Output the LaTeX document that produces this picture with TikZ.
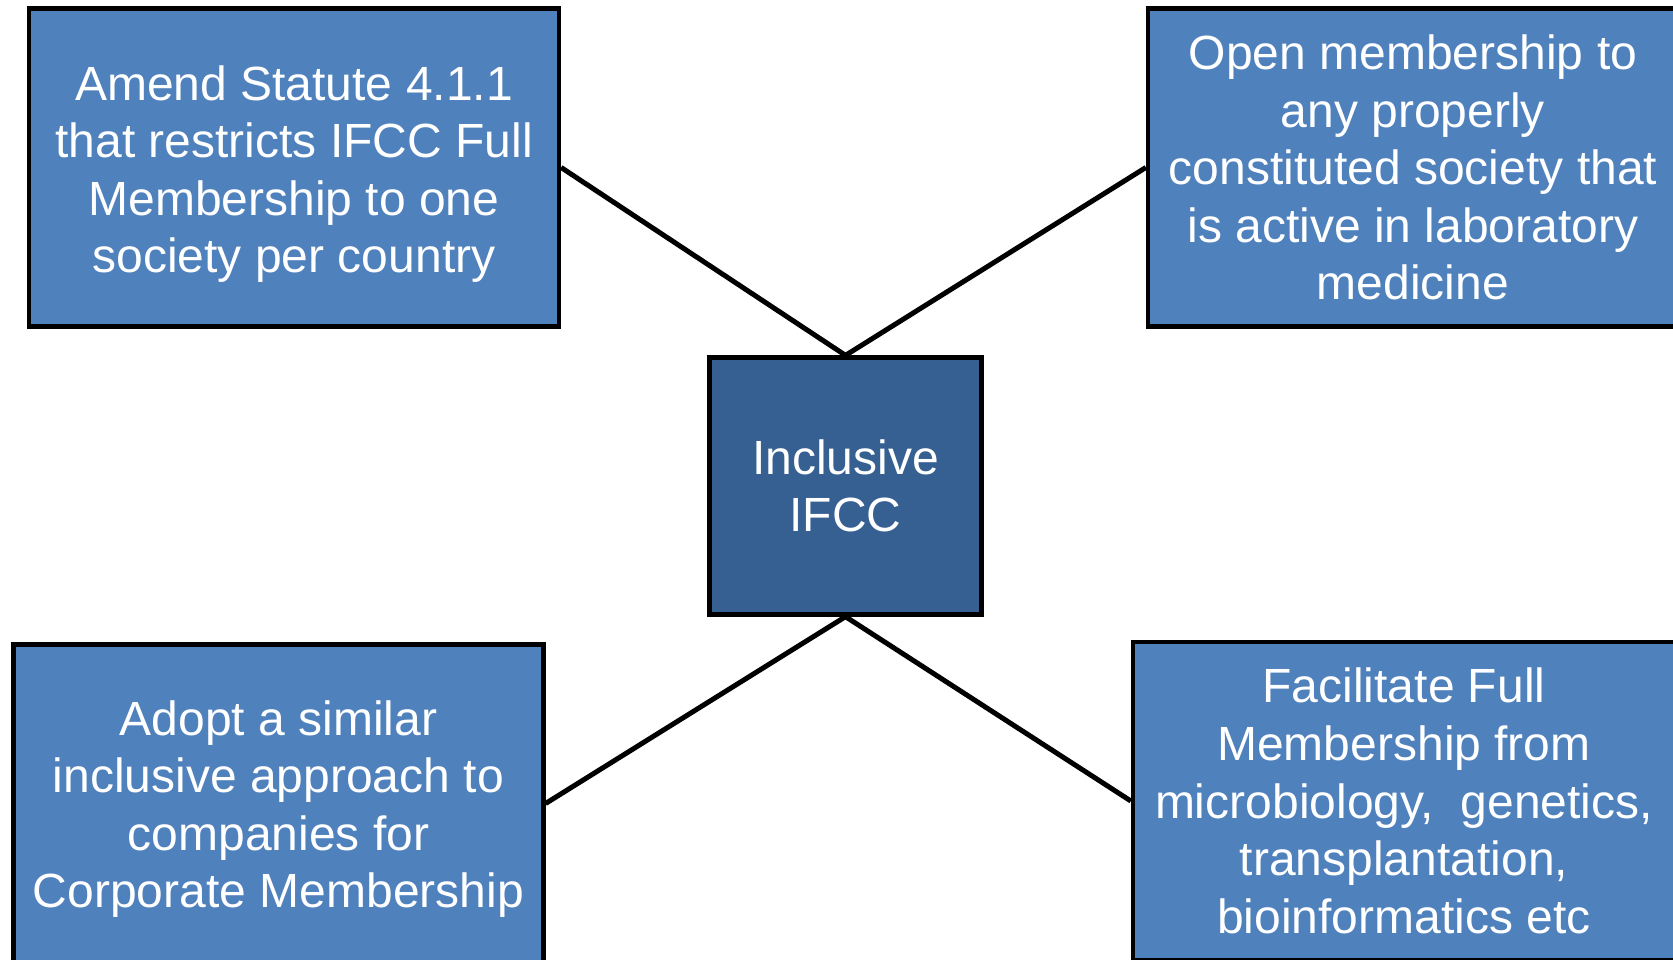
\documentclass[tikz,border=0pt]{standalone}
\usepackage{fontspec}
\setmainfont{Liberation Sans}
\definecolor{boxblue}{HTML}{4F81BD}
\definecolor{hubblue}{HTML}{366092}
\begin{document}
\begin{tikzpicture}[x=1pt,y=-1pt,
  boxbase/.style={draw=black, line width=4.3pt, rectangle, inner sep=0pt,
    text=white, align=center, font=\fontsize{48}{57.6}\selectfont},
  outerbox/.style={boxbase, fill=boxblue, minimum width=530pt, minimum height=318pt},
  hubbox/.style={boxbase, fill=hubblue, minimum width=272pt, minimum height=257pt},
  link/.style={draw=black, line width=5pt}]
\useasboundingbox (0,0) rectangle (1673,959);
\clip (0,0) rectangle (1673,959);
\fill[white] (0,0) rectangle (1673,959);
\node[outerbox] (tl) at (294,167.5) {\rule{0pt}{48pt}Amend Statute 4.1.1\\that restricts IFCC Full\\Membership to one\\society per country};
\node[outerbox] (tr) at (1413,167.5) {Open membership to\\any properly\\constituted society that\\is active in laboratory\\medicine};
\node[outerbox] (bl) at (278.4,803.5) {\rule{0pt}{46pt}Adopt a similar\\inclusive approach to\\companies for\\Corporate Membership};
\node[outerbox, minimum width=542pt] (br) at (1404,801) {Facilitate Full\\Membership from\\microbiology,\ \ genetics,\\transplantation,\\bioinformatics etc};
\node[hubbox] (hub) at (845.5,486) {Inclusive\\IFCC};
\draw[link] (tl.east) -- (hub.north);
\draw[link] (tr.west) -- (hub.north);
\draw[link] (bl.east) -- (hub.south);
\draw[link] (br.west) -- (hub.south);
\end{tikzpicture}
\end{document}
